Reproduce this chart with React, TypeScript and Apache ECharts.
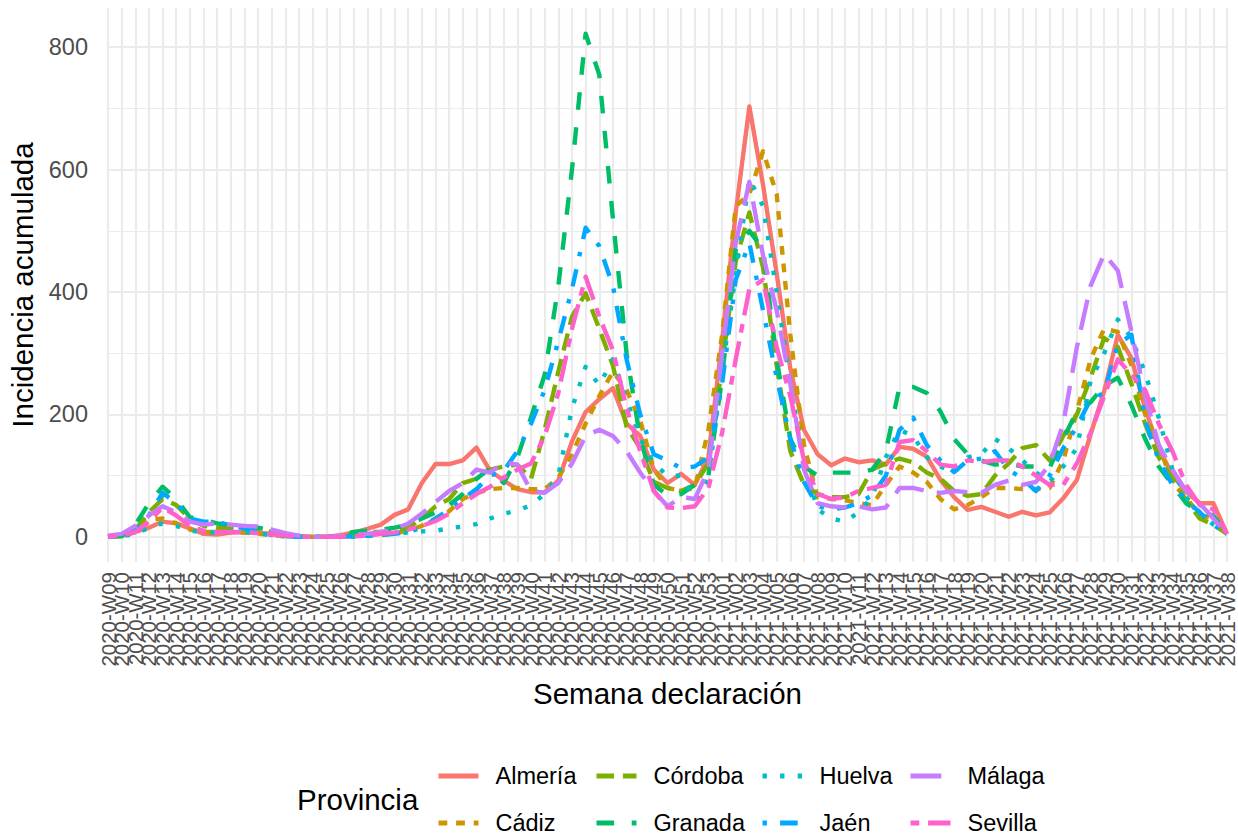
import React, { useEffect, useRef } from "react";
import * as echarts from "echarts";

const weeks: string[] = [
  "2020-W09", "2020-W10", "2020-W11", "2020-W12", "2020-W13", "2020-W14", "2020-W15", "2020-W16", "2020-W17", "2020-W18",
  "2020-W19", "2020-W20", "2020-W21", "2020-W22", "2020-W23", "2020-W24", "2020-W25", "2020-W26", "2020-W27", "2020-W28",
  "2020-W29", "2020-W30", "2020-W31", "2020-W32", "2020-W33", "2020-W34", "2020-W35", "2020-W36", "2020-W37", "2020-W38",
  "2020-W39", "2020-W40", "2020-W41", "2020-W42", "2020-W43", "2020-W44", "2020-W45", "2020-W46", "2020-W47", "2020-W48",
  "2020-W49", "2020-W50", "2020-W51", "2020-W52", "2020-W53",
  "2021-W01", "2021-W02", "2021-W03", "2021-W04", "2021-W05", "2021-W06", "2021-W07", "2021-W08", "2021-W09", "2021-W10",
  "2021-W11", "2021-W12", "2021-W13", "2021-W14", "2021-W15", "2021-W16", "2021-W17", "2021-W18", "2021-W19", "2021-W20",
  "2021-W21", "2021-W22", "2021-W23", "2021-W24", "2021-W25", "2021-W26", "2021-W27", "2021-W28", "2021-W29", "2021-W30",
  "2021-W31", "2021-W32", "2021-W33", "2021-W34", "2021-W35", "2021-W36", "2021-W37", "2021-W38",
];

const almeria = [
  0, 2, 8, 15, 25, 22, 14, 5, 4, 7, 8, 7, 5, 2, 0, 0, 0, 3, 7, 13,
  20, 36, 45, 88, 119, 119, 125, 146, 108, 92, 78, 73, 73, 92, 156,
  204, 225, 243, 185, 165, 110, 88, 103, 85, 130,
  320, 530, 703, 575, 430, 275, 175, 135, 117, 128, 122, 125,
  118, 147, 144, 131, 93, 65, 44, 49, 41, 33, 41, 35, 40,
  63, 93, 167, 238, 330, 292, 210, 145, 101, 74, 55, 55, 5,
];
const cadiz = [
  0, 1, 8, 28, 30, 22, 12, 8, 8, 8, 7, 5, 3, 1, 0, 0, 0, 0, 2, 3,
  3, 6, 10, 18, 30, 42, 62, 72, 78, 80, 80, 78, 78, 97, 135,
  185, 230, 270, 240, 190, 110, 80, 75, 80, 175,
  330, 540, 560, 630, 560, 330, 150, 65, 62, 60, 55, 52,
  85, 115, 105, 90, 62, 45, 52, 65, 80, 80, 78, 78, 80,
  125, 205, 290, 340, 335, 280, 200, 150, 88, 65, 35, 30, 5,
];
const cordoba = [
  0, 2, 12, 40, 62, 52, 30, 18, 15, 14, 13, 12, 8, 4, 1, 0, 0, 1, 4, 8,
  8, 10, 15, 30, 50, 62, 88, 95, 110, 115, 118, 95, 175, 270, 360,
  398, 340, 280, 180, 145, 90, 80, 75, 85, 120,
  280, 450, 530, 440, 280, 140, 85, 70, 65, 65, 70, 110,
  120, 128, 122, 105, 95, 75, 67, 70, 100, 120, 145, 150, 125,
  165, 200, 260, 325, 310, 250, 185, 130, 95, 60, 30, 20, 5,
];
const granada = [
  0, 1, 20, 55, 82, 62, 32, 28, 22, 20, 18, 15, 10, 5, 1, 0, 0, 3, 8, 10,
  12, 15, 20, 30, 40, 52, 70, 95, 112, 88, 130, 195, 265, 410, 600,
  822, 755, 520, 300, 160, 85, 68, 70, 85, 100,
  260, 470, 500, 470, 290, 160, 115, 100, 105, 105, 105, 110,
  140, 245, 245, 235, 205, 160, 135, 125, 118, 120, 115, 115, 113,
  160, 205, 220, 247, 260, 215, 160, 115, 85, 55, 40, 35, 5,
];
const huelva = [
  0, 1, 5, 15, 22, 18, 10, 8, 7, 9, 8, 6, 3, 1, 0, 0, 0, 0, 0, 1,
  4, 6, 7, 9, 10, 14, 17, 21, 30, 38, 43, 52, 70, 100, 210,
  278, 248, 290, 225, 160, 120, 100, 100, 60, 95,
  270, 430, 585, 540, 400, 250, 120, 45, 30, 25, 40, 65,
  130, 175, 165, 130, 115, 105, 130, 135, 160, 145, 125, 105, 90,
  115, 145, 255, 300, 355, 325, 268, 195, 110, 65, 40, 20, 5,
];
const jaen = [
  0, 1, 10, 35, 72, 55, 30, 25, 25, 18, 14, 10, 3, 1, 0, 0, 0, 0, 1, 2,
  3, 5, 8, 15, 30, 45, 62, 78, 100, 108, 140, 185, 240, 320, 405,
  505, 475, 410, 290, 200, 135, 125, 112, 115, 130,
  250, 420, 480, 370, 260, 160, 90, 50, 45, 48, 55, 68,
  100, 175, 195, 150, 125, 106, 125, 128, 140, 110, 95, 75, 100,
  145, 180, 225, 235, 315, 330, 190, 125, 85, 60, 40, 20, 5,
];
const malaga = [
  2, 5, 18, 35, 50, 40, 25, 20, 22, 20, 18, 17, 12, 6, 2, 0, 0, 2, 3, 5,
  8, 12, 22, 38, 57, 75, 88, 110, 105, 122, 118, 75, 72, 88, 120,
  165, 175, 165, 140, 105, 75, 50, 65, 62, 110,
  300, 480, 580, 460, 370, 250, 110, 55, 50, 48, 50, 45,
  48, 80, 80, 75, 72, 75, 73, 72, 85, 92, 85, 90, 118,
  185, 310, 410, 462, 435, 335, 230, 150, 110, 75, 55, 30, 5,
];
const sevilla = [
  0, 2, 8, 25, 48, 35, 18, 10, 8, 8, 8, 6, 4, 2, 0, 0, 0, 0, 1, 2,
  5, 7, 12, 18, 26, 38, 55, 70, 82, 97, 110, 120, 165, 235, 340,
  425, 360, 305, 210, 140, 75, 48, 47, 50, 80,
  170, 290, 405, 420, 310, 230, 125, 70, 62, 65, 75, 80,
  85, 155, 158, 140, 118, 115, 125, 122, 125, 125, 115, 100, 85,
  85, 120, 170, 230, 290, 265, 240, 185, 140, 85, 52, 45, 5,
];

const provinces = ["Almería", "Cádiz", "Córdoba", "Granada", "Huelva", "Jaén", "Málaga", "Sevilla"];
const values = [almeria, cadiz, cordoba, granada, huelva, jaen, malaga, sevilla];
const colors = ["#F8766D", "#CD9600", "#7CAE00", "#00BE67", "#00BFC4", "#00A9FF", "#C77CFF", "#FF61CC"];
const U = 4.4;
const dashes: (string | number[])[] = [
  "solid",
  [2 * U, 2 * U],
  [4 * U, 2 * U],
  [4 * U, 4 * U],
  [1 * U, 3 * U],
  [1 * U, 3 * U, 4 * U, 3 * U],
  [7 * U, 3 * U],
  [2 * U, 2 * U, 6 * U, 2 * U],
];
const yMajorTicks = [0, 200, 400, 600, 800];
const yMinorTicks = [100, 300, 500, 700];
const yMin = -41;
const yMax = 864;

const FONT = "'Liberation Sans', Arial, Helvetica, sans-serif";
const GRID_COLOR = "#EBEBEB";

const legendColumns = [
  { names: ["Almería", "Cádiz"], left: 436 },
  { names: ["Córdoba", "Granada"], left: 594 },
  { names: ["Huelva", "Jaén"], left: 760 },
  { names: ["Málaga", "Sevilla"], left: 908 },
];

export default function App() {
  const ref = useRef<HTMLDivElement>(null);
  useEffect(() => {
    document.body.style.margin = "0";
    if (!ref.current) return;
    const chart = echarts.init(ref.current, null, { renderer: "svg" });
    const option: any = {
      animation: false,
      backgroundColor: "#FFFFFF",
      textStyle: { fontFamily: FONT },
      grid: { left: 108, right: 11, top: 8, bottom: 275, containLabel: false, outerBoundsMode: "none" },
      xAxis: {
        type: "category",
        data: weeks,
        boundaryGap: false,
        name: "Semana declaración",
        nameLocation: "middle",
        nameGap: 116,
        nameTextStyle: { fontSize: 29.5, color: "#000000", fontFamily: FONT },
        axisLine: { show: false, onZero: false },
        axisTick: { show: false },
        axisLabel: {
          interval: 0,
          rotate: 90,
          fontSize: 20.5,
          color: "#4D4D4D",
          margin: 10,
          fontFamily: FONT,
          hideOverlap: false,
        },
        splitLine: { show: true, interval: 0, lineStyle: { color: GRID_COLOR, width: 2.2 } },
      },
      yAxis: [
        {
          type: "value",
          min: yMin,
          max: yMax,
          name: "Incidencia acumulada",
          nameLocation: "middle",
          nameGap: 64,
          nameTextStyle: { fontSize: 29.5, color: "#000000", fontFamily: FONT },
          axisLine: { show: false },
          axisTick: { show: false, customValues: yMajorTicks },
          axisLabel: { customValues: yMajorTicks, fontSize: 23.5, color: "#4D4D4D", margin: 20, fontFamily: FONT },
          splitLine: { show: true, lineStyle: { color: GRID_COLOR, width: 2.2 } },
        },
        {
          type: "value",
          min: yMin,
          max: yMax,
          position: "left",
          axisLine: { show: false },
          axisTick: { show: false, customValues: yMinorTicks },
          axisLabel: { show: false, customValues: yMinorTicks },
          splitLine: { show: true, lineStyle: { color: GRID_COLOR, width: 1.1 } },
        },
      ],
      legend: legendColumns.map((col) => ({
        data: col.names,
        left: col.left,
        top: 764,
        orient: "vertical",
        padding: 0,
        itemGap: 23,
        itemWidth: 40,
        itemHeight: 28,
        selectedMode: false,
        itemStyle: { opacity: 0 },
        lineStyle: { width: 5, cap: "butt" },
        textStyle: { fontSize: 23.5, color: "#000000", fontFamily: FONT, padding: [0, 0, 0, 12] },
      })),
      graphic: [
        {
          type: "text",
          left: 297,
          top: 784,
          style: { text: "Provincia", fontSize: 29.5, fill: "#000000", fontFamily: FONT },
        },
      ],
      series: provinces.map((p, k) => ({
        name: p,
        type: "line",
        data: values[k],
        symbol: "none",
        showSymbol: false,
        smooth: false,
        silent: true,
        emphasis: { disabled: true },
        itemStyle: { color: colors[k] },
        lineStyle: { color: colors[k], width: 4.4, type: dashes[k], cap: "butt", join: "round" },
      })),
    };
    chart.setOption(option);
    return () => chart.dispose();
  }, []);
  return <div ref={ref} style={{ width: 1238, height: 837 }} />;
}
